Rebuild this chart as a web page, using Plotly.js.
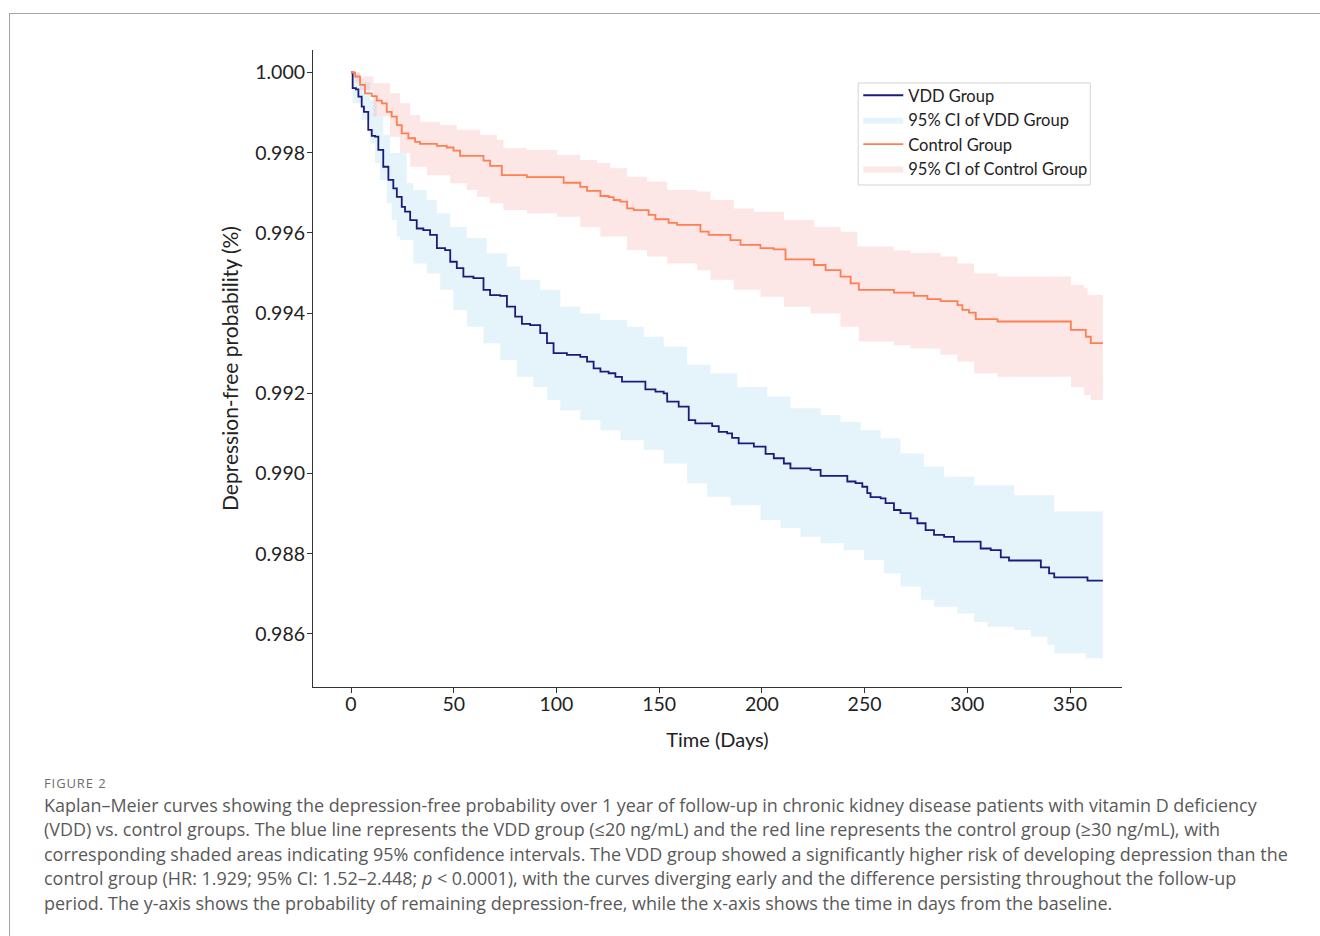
<!DOCTYPE html>
<html>
<head>
<meta charset="utf-8">
<script src="https://cdn.plot.ly/plotly-3.0.1.min.js"></script>
<style>
  html, body { margin: 0; padding: 0; background: #ffffff; }
  #wrap { position: relative; width: 1320px; height: 936px; overflow: hidden; }
  #chart { position: absolute; left: 0; top: 0; width: 1320px; height: 936px; }
  #frame { position: absolute; left: 9px; top: 13px; width: 1400px; height: 1000px;
           border-left: 1px solid #a3a3a3; border-top: 1px solid #a3a3a3; pointer-events: none; }
  #figlabel { position: absolute; left: 44px; top: 774px; font-family: "Open Sans", sans-serif;
              font-size: 13px; color: #6e6e6e; letter-spacing: 0.9px; }
  #caption { position: absolute; left: 44px; top: 793px; font-family: "Open Sans", sans-serif;
             font-size: 17.95px; line-height: 24.4px; color: #595959; white-space: nowrap; }
</style>
</head>
<body>
<div id="wrap">
  <div id="chart"></div>
  <div id="frame"></div>
  <div id="figlabel">FIGURE 2</div>
  <div id="caption">Kaplan–Meier curves showing the depression-free probability over 1 year of follow-up in chronic kidney disease patients with vitamin D deficiency<br>(VDD) vs. control groups. The blue line represents the VDD group (≤20 ng/mL) and the red line represents the control group (≥30 ng/mL), with<br>corresponding shaded areas indicating 95% confidence intervals. The VDD group showed a significantly higher risk of developing depression than the<br>control group (HR: 1.929; 95% CI: 1.52–2.448; <i>p</i> &lt; 0.0001), with the curves diverging early and the difference persisting throughout the follow-up<br>period. The y-axis shows the probability of remaining depression-free, while the x-axis shows the time in days from the baseline.</div>
</div>
<script>
// ---- VDD group survival curve ----
const vddTime = [0, 0.8, 2.4, 3.6, 5.2, 6.3, 8.4, 10.1, 11.7, 13.3, 15.7, 18.2, 20.6, 22.3, 24.7, 26.3, 28.8, 32.0, 35.2, 38.5, 41.8, 45.8, 48.3, 51.5, 54.7, 59.6, 64.5, 67.7, 72.6, 75.9, 79.9, 83.2, 87.2, 92.1, 95.4, 98.6, 105.1, 111.6, 114.9, 118.1, 121.4, 125.4, 128.7, 131.9, 143.3, 148.2, 152.2, 153.9, 159.5, 164.4, 167.6, 175.8, 179.0, 183.1, 185.5, 188.7, 196.1, 201.8, 205.8, 210.7, 213.9, 223.7, 228.6, 241.6, 245.6, 248.9, 251.3, 252.9, 257.8, 260.2, 264.3, 267.5, 272.4, 275.7, 279.7, 283.8, 288.7, 293.5, 306.5, 311.4, 316.3, 320.3, 335.8, 339.8, 342.3, 358.5, 366];
const vddSurv = [1.0, 0.99961, 0.99958, 0.99940, 0.99915, 0.99902, 0.99857, 0.99842, 0.99840, 0.99807, 0.99765, 0.99732, 0.99711, 0.99690, 0.99665, 0.99653, 0.99632, 0.99611, 0.99607, 0.99595, 0.99562, 0.99557, 0.99528, 0.99512, 0.99491, 0.99487, 0.99458, 0.99445, 0.99443, 0.99416, 0.99391, 0.99373, 0.99370, 0.99350, 0.99325, 0.99300, 0.99296, 0.99291, 0.99279, 0.99262, 0.99254, 0.99250, 0.99241, 0.99229, 0.99210, 0.99204, 0.99200, 0.99179, 0.99167, 0.99133, 0.99125, 0.99118, 0.99104, 0.99100, 0.99089, 0.99075, 0.99067, 0.99049, 0.99038, 0.99025, 0.99013, 0.99009, 0.98994, 0.98980, 0.98976, 0.98967, 0.98951, 0.98941, 0.98938, 0.98926, 0.98909, 0.98901, 0.98888, 0.98876, 0.98859, 0.98847, 0.98842, 0.98830, 0.98813, 0.98809, 0.98791, 0.98783, 0.98766, 0.98751, 0.98741, 0.98733, 0.98733];

// ---- VDD group 95% CI ----
const vddUpTime = [0, 4.4, 9.3, 12.5, 15.7, 19.0, 27.1, 30.4, 36.9, 41.8, 48.3, 56.4, 66.1, 75.9, 82.4, 92.1, 101.9, 111.6, 121.4, 134.4, 142.5, 152.2, 163.6, 175.0, 188.0, 202.6, 213.9, 228.6, 238.3, 248.1, 257.8, 267.5, 278.9, 288.7, 303.3, 322.8, 342.3, 366];
const vddUpper = [1.0, 0.99976, 0.99931, 0.99890, 0.99845, 0.99799, 0.99724, 0.99707, 0.99682, 0.99649, 0.99615, 0.99587, 0.99549, 0.99516, 0.99483, 0.99458, 0.99416, 0.99399, 0.99383, 0.99366, 0.99341, 0.99316, 0.99271, 0.99250, 0.99216, 0.99192, 0.99163, 0.99146, 0.99129, 0.99108, 0.99088, 0.99050, 0.99017, 0.98992, 0.98971, 0.98946, 0.98905, 0.98905];
const vddLowTime = [0, 0.8, 5.2, 9.3, 11.7, 14.1, 17.4, 19.8, 22.3, 23.9, 30.4, 36.9, 43.4, 49.9, 56.4, 64.5, 72.6, 80.8, 88.8, 95.4, 101.9, 111.6, 121.4, 131.1, 142.5, 152.2, 163.6, 173.3, 184.7, 199.3, 209.1, 218.8, 228.6, 239.9, 249.7, 259.4, 267.5, 277.3, 283.8, 295.2, 303.3, 309.8, 322.8, 330.9, 339.0, 342.3, 357.7, 366];
const vddLower = [1.0, 0.99923, 0.99882, 0.99823, 0.99774, 0.99732, 0.99674, 0.99632, 0.99591, 0.99582, 0.99524, 0.99499, 0.99458, 0.99408, 0.99366, 0.99325, 0.99283, 0.99241, 0.99216, 0.99183, 0.99158, 0.99133, 0.99108, 0.99083, 0.99059, 0.99025, 0.98976, 0.98942, 0.98921, 0.98884, 0.98864, 0.98842, 0.98826, 0.98809, 0.98784, 0.98751, 0.98718, 0.98685, 0.98668, 0.98651, 0.98630, 0.98618, 0.98610, 0.98593, 0.98573, 0.98552, 0.98539, 0.98539];

// ---- Control group survival curve ----
const ctrlTime = [0, 2.0, 4.4, 6.8, 10.1, 12.5, 15.0, 17.4, 19.8, 22.3, 24.7, 27.9, 31.2, 33.6, 41.8, 46.6, 49.9, 53.1, 64.5, 67.7, 73.4, 85.6, 103.5, 111.6, 114.9, 121.4, 125.4, 127.8, 131.1, 134.4, 137.6, 144.9, 148.2, 154.6, 158.7, 170.1, 174.1, 184.7, 189.6, 199.3, 205.8, 211.5, 225.3, 231.0, 238.3, 243.2, 247.2, 264.3, 274.0, 280.6, 287.0, 295.2, 297.6, 300.8, 304.1, 314.7, 350.4, 357.7, 360.1, 366];
const ctrlSurv = [1.0, 0.99990, 0.99969, 0.99948, 0.99941, 0.99930, 0.99923, 0.99902, 0.99890, 0.99869, 0.99848, 0.99836, 0.99827, 0.99822, 0.99817, 0.99813, 0.99805, 0.99792, 0.99780, 0.99767, 0.99744, 0.99739, 0.99725, 0.99715, 0.99705, 0.99692, 0.99689, 0.99682, 0.99678, 0.99661, 0.99657, 0.99645, 0.99634, 0.99625, 0.99620, 0.99603, 0.99595, 0.99582, 0.99570, 0.99562, 0.99559, 0.99534, 0.99520, 0.99507, 0.99491, 0.99474, 0.99458, 0.99451, 0.99443, 0.99435, 0.99430, 0.99420, 0.99408, 0.99401, 0.99385, 0.99379, 0.99358, 0.99341, 0.99325, 0.99325];

// ---- Control group 95% CI ----
const ctrlUpTime = [0, 4.4, 10.9, 19.0, 23.9, 28.8, 33.6, 43.4, 51.5, 62.9, 71.0, 74.2, 85.6, 100.2, 111.6, 119.7, 126.2, 134.4, 144.1, 153.9, 168.5, 175.0, 186.3, 196.1, 210.7, 225.3, 238.3, 246.4, 264.1, 272.4, 287.0, 295.2, 303.3, 314.7, 350.4, 356.7, 358.5, 366];
const ctrlUpper = [1.0, 0.99990, 0.99973, 0.99948, 0.99923, 0.99894, 0.99877, 0.99869, 0.99857, 0.99844, 0.99832, 0.99811, 0.99807, 0.99794, 0.99782, 0.99774, 0.99761, 0.99740, 0.99728, 0.99707, 0.99703, 0.99682, 0.99661, 0.99653, 0.99632, 0.99615, 0.99603, 0.99566, 0.99556, 0.99550, 0.99541, 0.99524, 0.99499, 0.99491, 0.99470, 0.99462, 0.99445, 0.99445];
const ctrlLowTime = [0, 2.0, 4.4, 10.9, 19.0, 23.9, 28.8, 36.9, 48.3, 56.4, 61.3, 67.7, 74.2, 85.6, 100.2, 111.6, 121.4, 134.4, 144.1, 153.9, 168.5, 175.0, 186.3, 199.3, 210.7, 223.7, 238.3, 247.2, 264.3, 272.4, 287.0, 295.2, 303.3, 314.7, 350.4, 356.9, 360.1, 366];
const ctrlLower = [1.0, 0.99975, 0.99956, 0.99890, 0.99840, 0.99799, 0.99765, 0.99744, 0.99724, 0.99707, 0.99690, 0.99674, 0.99657, 0.99649, 0.99640, 0.99615, 0.99591, 0.99557, 0.99541, 0.99524, 0.99507, 0.99483, 0.99458, 0.99441, 0.99416, 0.99399, 0.99366, 0.99329, 0.99320, 0.99312, 0.99296, 0.99279, 0.99250, 0.99241, 0.99216, 0.99196, 0.99183, 0.99183];

// ---- axis ticks / labels ----
const xTicks = [0, 50, 100, 150, 200, 250, 300, 350];
const yTicks = [0.986, 0.988, 0.990, 0.992, 0.994, 0.996, 0.998, 1.000];
const seriesNames = ['VDD Group', '95% CI of VDD Group', 'Control Group', '95% CI of Control Group'];

const FONT = 'Lato, "Open Sans", sans-serif';
const navy = '#1b1b7d';
const coral = '#ff7f50';

const traces = [
  { x: vddLowTime, y: vddLower, type: 'scatter', mode: 'lines',
    line: { width: 0, shape: 'hv' }, showlegend: false, hoverinfo: 'skip' },
  { x: vddUpTime, y: vddUpper, type: 'scatter', mode: 'lines', name: seriesNames[1],
    line: { width: 0, shape: 'hv' }, fill: 'tonexty', fillcolor: 'rgba(135,206,235,0.22)', legendrank: 2 },
  { x: ctrlLowTime, y: ctrlLower, type: 'scatter', mode: 'lines',
    line: { width: 0, shape: 'hv' }, showlegend: false, hoverinfo: 'skip' },
  { x: ctrlUpTime, y: ctrlUpper, type: 'scatter', mode: 'lines', name: seriesNames[3],
    line: { width: 0, shape: 'hv' }, fill: 'tonexty', fillcolor: 'rgba(240,128,128,0.2)', legendrank: 4 },
  { x: vddTime, y: vddSurv, type: 'scatter', mode: 'lines', name: seriesNames[0],
    line: { color: navy, width: 1.8, shape: 'hv' }, legendrank: 1 },
  { x: ctrlTime, y: ctrlSurv, type: 'scatter', mode: 'lines', name: seriesNames[2],
    line: { color: coral, width: 1.8, shape: 'hv' }, legendrank: 3 }
];

const layout = {
  width: 1320, height: 936,
  margin: { l: 313, r: 198, t: 50, b: 249 },
  paper_bgcolor: 'rgba(0,0,0,0)', plot_bgcolor: '#ffffff',
  font: { family: FONT, color: '#222222', size: 18 },
  showlegend: true,
  legend: {
    x: 0.674, y: 0.956, xanchor: 'left', yanchor: 'top',
    bgcolor: 'rgba(0,0,0,0)', borderwidth: 0,
    font: { family: FONT, size: 16.5, color: '#222222' },
    itemwidth: 40, traceorder: 'normal'
  },
  shapes: [
    { type: 'rect', xref: 'paper', yref: 'paper', layer: 'below',
      x0: 0.6739, x1: 0.9608, y0: 0.7881, y1: 0.9482,
      line: { color: '#d4d4d4', width: 1 }, fillcolor: '#ffffff' }
  ],
  xaxis: {
    range: [-18.5, 375.3], tickvals: xTicks, ticktext: xTicks.map(String),
    showline: true, linecolor: '#333333', linewidth: 1.1,
    ticks: 'outside', ticklen: 5, tickcolor: '#333333', tickwidth: 1,
    showgrid: false, zeroline: false, ticklabelstandoff: -6,
    tickfont: { family: FONT, size: 19.5, color: '#222222' },
    title: { text: 'Time (Days)', font: { family: FONT, size: 20, color: '#222222' }, standoff: 19 }
  },
  yaxis: {
    range: [0.984676, 1.000561], tickvals: yTicks, tickformat: '.3f',
    showline: true, linecolor: '#333333', linewidth: 1.1,
    ticks: 'outside', ticklen: 5, tickcolor: '#333333', tickwidth: 1,
    showgrid: false, zeroline: false, ticklabelstandoff: -2,
    tickfont: { family: FONT, size: 19.5, color: '#222222' },
    title: { text: 'Depression-free probability (%)', font: { family: FONT, size: 21, color: '#222222' }, standoff: 10 }
  }
};

Plotly.newPlot('chart', traces, layout, { displayModeBar: false, staticPlot: true });
</script>
</body>
</html>
